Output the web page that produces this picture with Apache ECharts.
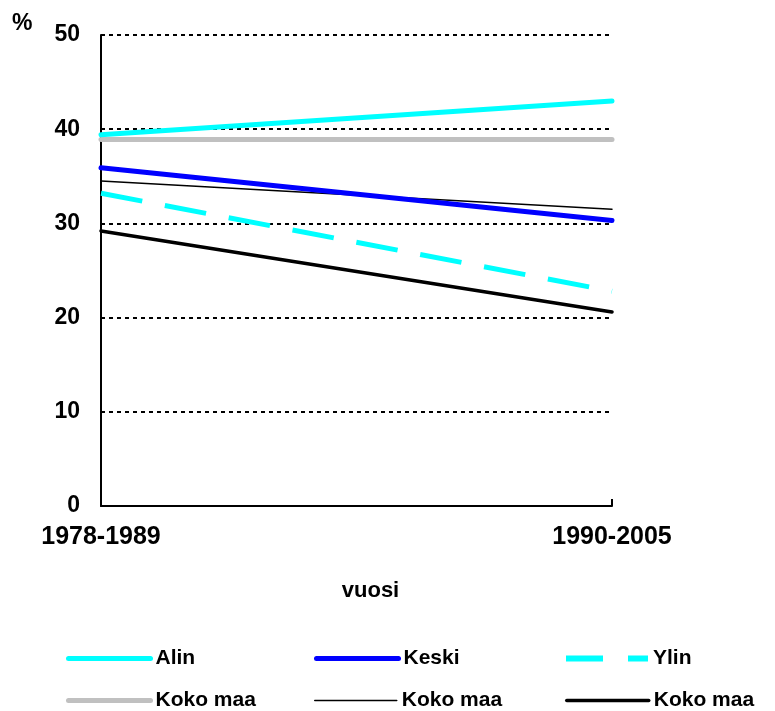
<!DOCTYPE html>
<html>
<head>
<meta charset="utf-8">
<script src="https://cdn.jsdelivr.net/npm/echarts@6/dist/echarts.min.js"></script>
<style>
html,body{margin:0;padding:0;background:#fff;}
#chart{width:775px;height:711px;}
</style>
</head>
<body>
<div id="chart"></div>
<script>
var categories = ['1978-1989', '1990-2005'];
var yTicks = [0, 10, 20, 30, 40, 50];
var alin = [39.4, 43.0];
var keski = [35.9, 30.3];
var ylin = [33.2, 22.8];
var kokoMaaGrey = [38.9, 38.9];
var kokoMaaThin = [34.5, 31.5];
var kokoMaaThick = [29.2, 20.6];

var FONT = '"Liberation Sans", Arial, sans-serif';
var chart = echarts.init(document.getElementById('chart'), null, {renderer: 'canvas'});

function strip(name) { return name.replace(/#\d+$/, ''); }

function legendFor(name, left, top, lineStyle) {
  return {
    orient: 'horizontal',
    left: left,
    top: top,
    padding: 0,
    itemWidth: 82,
    itemHeight: 14,
    itemGap: 0,
    data: [name],
    formatter: strip,
    selectedMode: false,
    itemStyle: {opacity: 0},
    lineStyle: lineStyle,
    textStyle: {fontFamily: FONT, fontWeight: 'bold', fontSize: 21, color: '#000', padding: [0, 0, 0, 0]}
  };
}

chart.setOption({
  animation: false,
  backgroundColor: '#fff',
  grid: {left: 101, right: 163, top: 35, bottom: 205, containLabel: false},
  graphic: [{
    type: 'text', left: 12, top: 12,
    style: {text: '%', font: 'bold 23px ' + FONT, fill: '#000'}
  }],
  legend: [
    legendFor('Alin', 66, 648, {width: 5, cap: 'round'}),
    legendFor('Keski', 314, 648, {width: 5, cap: 'round'}),
    legendFor('Ylin', 563, 648, {width: 6, type: [37, 25], cap: 'butt'}),
    legendFor('Koko maa#1', 66, 690, {width: 5, cap: 'round'}),
    legendFor('Koko maa#2', 314, 690, {width: 1.5, cap: 'round'}),
    legendFor('Koko maa#3', 565, 690, {width: 3.5, cap: 'round'})
  ],
  xAxis: {
    type: 'category',
    data: categories,
    boundaryGap: false,
    name: 'vuosi',
    nameLocation: 'middle',
    nameGap: 74,
    nameTextStyle: {fontFamily: FONT, fontWeight: 'bold', fontSize: 22, color: '#000', padding: [0, 0, 0, 28]},
    axisLine: {lineStyle: {color: '#000', width: 2}},
    axisTick: {show: true, inside: true, length: 7, lineStyle: {color: '#000', width: 2}},
    axisLabel: {fontFamily: FONT, fontWeight: 'bold', fontSize: 25, color: '#000', margin: 19},
    splitLine: {show: false}
  },
  yAxis: {
    type: 'value',
    min: yTicks[0],
    max: yTicks[yTicks.length - 1],
    interval: 10,
    axisLine: {show: true, lineStyle: {color: '#000', width: 2}},
    axisTick: {show: false},
    axisLabel: {fontFamily: FONT, fontWeight: 'bold', fontSize: 23, color: '#000', margin: 21},
    splitLine: {show: true, lineStyle: {color: '#000', width: 2, type: [4, 4]}}
  },
  series: [
    {name: 'Koko maa#1', type: 'line', data: kokoMaaGrey, symbol: 'none', z: 2,
     lineStyle: {color: '#C0C0C0', width: 5, cap: 'round'}, itemStyle: {color: '#C0C0C0'}},
    {name: 'Alin', type: 'line', data: alin, symbol: 'none', z: 3,
     lineStyle: {color: '#00FFFF', width: 5, cap: 'round'}, itemStyle: {color: '#00FFFF'}},
    {name: 'Koko maa#2', type: 'line', data: kokoMaaThin, symbol: 'none', z: 3,
     lineStyle: {color: '#000', width: 1.5, cap: 'round'}, itemStyle: {color: '#000'}},
    {name: 'Keski', type: 'line', data: keski, symbol: 'none', z: 4,
     lineStyle: {color: '#0000FF', width: 5, cap: 'round'}, itemStyle: {color: '#0000FF'}},
    {name: 'Ylin', type: 'line', data: ylin, symbol: 'none', z: 3,
     lineStyle: {color: '#00FFFF', width: 5, type: [42, 23], cap: 'butt'}, itemStyle: {color: '#00FFFF'}},
    {name: 'Koko maa#3', type: 'line', data: kokoMaaThick, symbol: 'none', z: 3,
     lineStyle: {color: '#000', width: 3.5, cap: 'round'}, itemStyle: {color: '#000'}}
  ]
});
</script>
</body>
</html>
